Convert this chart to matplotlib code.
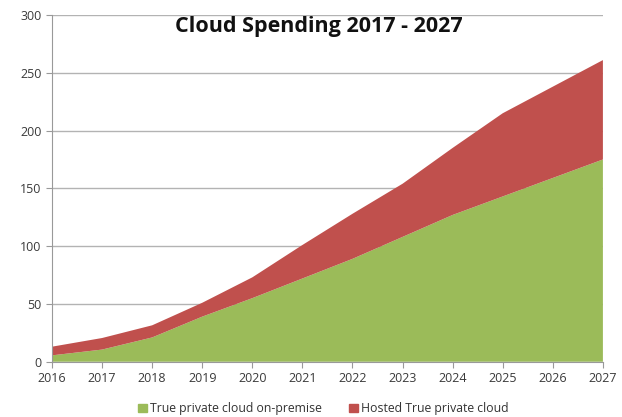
import numpy as np
import matplotlib
matplotlib.use('Agg')
import matplotlib.pyplot as plt
from matplotlib.patches import Patch

plt.rcParams['font.family'] = ['Open Sans', 'DejaVu Sans']

# 数据
years = [2016, 2017, 2018, 2019, 2020, 2021, 2022, 2023, 2024, 2025, 2026, 2027]
on_premise = [5.5, 10.5, 21, 39, 55, 72, 89, 108, 127, 143, 159, 175]
hosted = [7.5, 10, 10.5, 12, 18, 29, 39, 46, 58, 72, 79, 86]
series_names = ['True private cloud on-premise', 'Hosted True private cloud']
colors = ['#9BBB59', '#C0504D']

fig = plt.figure(figsize=(6.22, 4.17), dpi=100)
ax = fig.add_axes([0.0836, 0.1326, 0.8857, 0.8314])

ax.stackplot(years, on_premise, hosted, colors=colors, zorder=2)

ax.set_xlim(2016, 2027)
ax.set_ylim(0, 300)
ax.set_xticks(years)
ax.set_yticks(np.arange(0, 301, 50))
ax.grid(axis='y', color='#b3b3b3', linewidth=1, zorder=0)
ax.set_axisbelow(True)

for s in ['top', 'right']:
    ax.spines[s].set_visible(False)
for s in ['left', 'bottom']:
    ax.spines[s].set_color('#999999')
ax.tick_params(colors='#999999', labelcolor='#3a3a3a', labelsize=9, length=4)

# 标题
ax.text(0.485, 0.997, 'Cloud Spending 2017 - 2027', transform=ax.transAxes,
        ha='center', va='top', fontsize=15.5, fontweight='bold', color='#111111')

handles = [Patch(color=c, label=n) for c, n in zip(colors, series_names)]
fig.legend(handles=handles, loc='lower center', bbox_to_anchor=(0.52, -0.022),
           ncol=2, frameon=False, fontsize=8.8, handlelength=0.7, handleheight=0.7,
           handletextpad=0.3, columnspacing=2.2, labelcolor='#333333')

fig.savefig('out.png', dpi=100)
